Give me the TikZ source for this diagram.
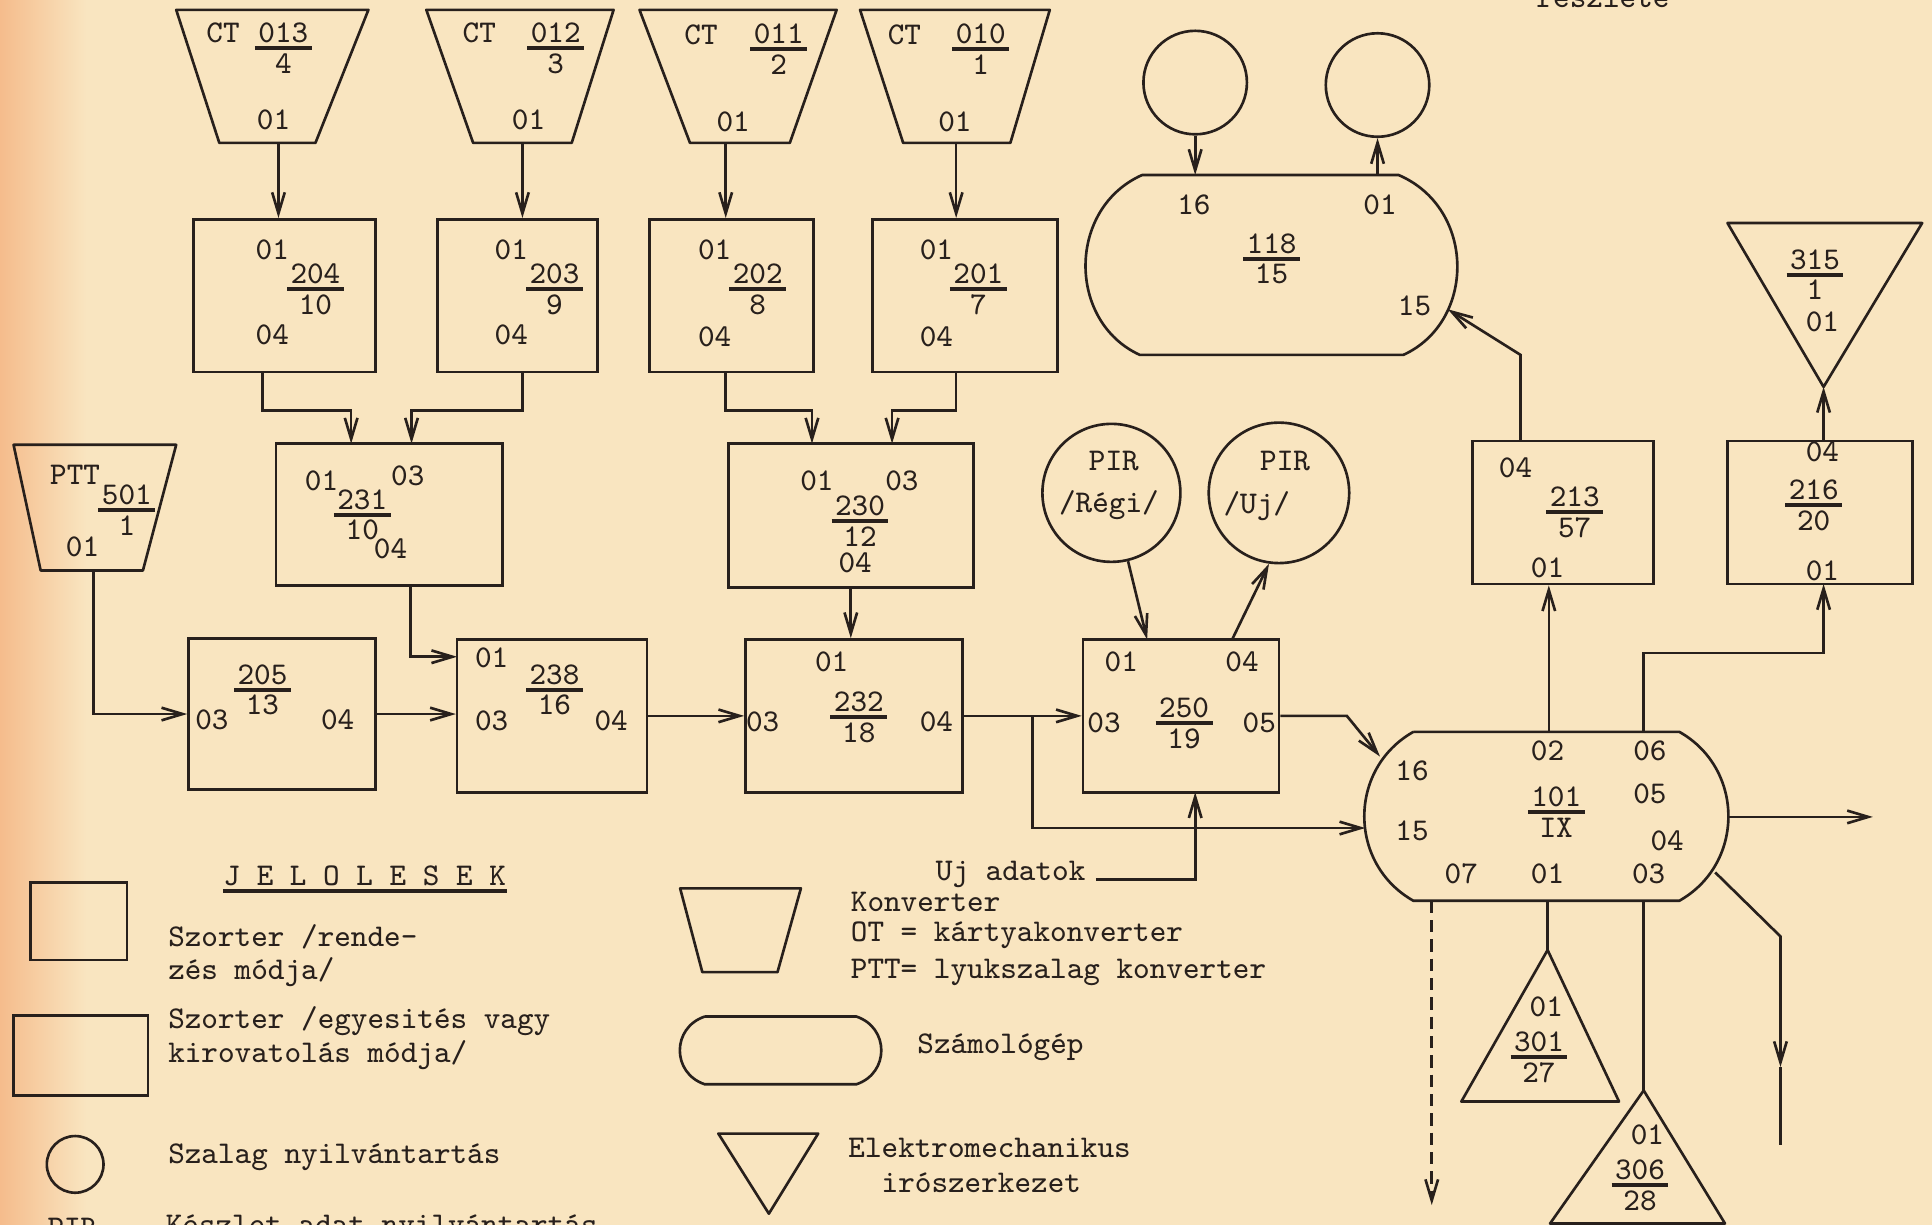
\documentclass[tikz,border=0pt]{standalone}
\usetikzlibrary{arrows.meta}
\definecolor{paper}{RGB}{249,229,192}
\definecolor{edge}{RGB}{245,188,140}
\definecolor{ink}{RGB}{40,32,28}
\newlength{\pxu}
\setlength{\pxu}{0.1232mm}
% number over number with a heavy bar
\newcommand{\frc}[2]{{\renewcommand{\arraystretch}{0}\setlength{\arrayrulewidth}{1.1pt}%
  \begin{tabular}{@{\kern1pt}c@{\kern1pt}}\rule[-1pt]{0pt}{6.5pt}#1\\\hline\rule{0pt}{6.6pt}#2\end{tabular}}}

\begin{document}
\begin{tikzpicture}[x=0.1232mm,y=-0.1232mm,font=\ttfamily\fontsize{9}{10}\selectfont]
\tikzstyle{sbox}=[draw=ink,line width=0.75pt,inner sep=0pt]
\tikzstyle{tape}=[sbox,circle]
\tikzstyle{shp}=[draw=ink,line width=0.75pt,line join=round]
\tikzstyle{wire}=[draw=ink,line width=0.75pt]
\tikzstyle{flow}=[wire,-{Straight Barb[length=6pt,width=3.6pt]}]
\tikzstyle{lbl}=[inner sep=0pt,text=ink]
\tikzstyle{txt}=[lbl,anchor=west]

% paper
\fill[paper] (0,0) rectangle (1568,994);
\shade[left color=edge,right color=paper] (0,0) rectangle (70,994);
\useasboundingbox (0,0) rectangle (1568,994);
\node[lbl,anchor=base] (head) at (1301,6) {részlete};

% CT converters
\draw[shp] (143,8) -- (299,8) -- (256,116) -- (178,116) -- cycle;
\draw[shp] (346,8) -- (498,8) -- (464,116) -- (384,116) -- cycle;
\draw[shp] (519,8) -- (679,8) -- (641,116) -- (560,116) -- cycle;
\draw[shp] (698,8) -- (852,8) -- (820,116) -- (733,116) -- cycle;
\coordinate (c13) at (226,116);
\coordinate (c12) at (424,116);
\coordinate (c11) at (589,116);
\coordinate (c10) at (776,116);
\node[lbl] (ct13a) at (181,27) {CT}; \node[lbl] (ct13b) at (230,39) {\frc{013}{4}}; \node[lbl] (ct13c) at (222,97) {01};
\node[lbl] (ct12a) at (389,27) {CT}; \node[lbl] (ct12b) at (451,39) {\frc{012}{3}}; \node[lbl] (ct12c) at (429,97) {01};
\node[lbl] (ct11a) at (569,28) {CT}; \node[lbl] (ct11b) at (632,40) {\frc{011}{2}}; \node[lbl] (ct11c) at (595,99) {01};
\node[lbl] (ct10a) at (734,28) {CT}; \node[lbl] (ct10b) at (796,40) {\frc{010}{1}}; \node[lbl] (ct10c) at (775,99) {01};

% first sorters
\node[sbox,minimum width=148*\pxu,minimum height=124*\pxu] (b204) at (231,240) {};
\node[sbox,minimum width=130*\pxu,minimum height=124*\pxu] (b203) at (420,240) {};
\node[sbox,minimum width=133*\pxu,minimum height=124*\pxu] (b202) at (593.5,240) {};
\node[sbox,minimum width=150*\pxu,minimum height=124*\pxu] (b201) at (783,240) {};
\node[lbl] (l204a) at (221,203) {01}; \node[lbl] (l204b) at (256,235) {\frc{204}{10}}; \node[lbl] (l204c) at (221,272) {04};
\node[lbl] (l203a) at (415,203) {01}; \node[lbl] (l203b) at (450,235) {\frc{203}{9}}; \node[lbl] (l203c) at (415,272) {04};
\node[lbl] (l202a) at (580,203) {01}; \node[lbl] (l202b) at (615,235) {\frc{202}{8}}; \node[lbl] (l202c) at (580,273) {04};
\node[lbl] (l201a) at (760,203) {01}; \node[lbl] (l201b) at (794,235) {\frc{201}{7}}; \node[lbl] (l201c) at (760,273) {04};
\draw[flow] (c13) -- (c13 |- b204.north);
\draw[flow] (c12) -- (c12 |- b203.north);
\draw[flow] (c11) -- (c11 |- b202.north);
\draw[flow] (c10) -- (c10 |- b201.north);

% merging sorters
\node[sbox,minimum width=184*\pxu,minimum height=115*\pxu] (b231) at (316,417.5) {};
\node[sbox,minimum width=199*\pxu,minimum height=117*\pxu] (b230) at (690.5,418.5) {};
\node[lbl] (l231a) at (261,390) {01}; \node[lbl] (l231b) at (331,386) {03};
\node[lbl] (l231c) at (294,418) {\frc{231}{10}}; \node[lbl] (l231d) at (317,445) {04};
\node[lbl] (l230a) at (663,390) {01}; \node[lbl] (l230b) at (732,390) {03};
\node[lbl] (l230c) at (698,423) {\frc{230}{12}}; \node[lbl] (l230d) at (694,457) {04};
\coordinate (o204) at (213,302);
\coordinate (o203) at (424,302);
\coordinate (o202) at (589,302);
\coordinate (o201) at (776,302);
\coordinate (i231a) at (285,360);
\coordinate (i231b) at (334,360);
\coordinate (i230a) at (659,360);
\coordinate (i230b) at (724,360);
\draw[flow] (o204) -- ++(0,31) -| (i231a);
\draw[flow] (o203) -- ++(0,31) -| (i231b);
\draw[flow] (o202) -- ++(0,31) -| (i230a);
\draw[flow] (o201) -- ++(0,31) -| (i230b);

% paper tape converter
\draw[shp] (11,361) -- (143,361) -- (116,463) -- (33,463) -- cycle;
\coordinate (cptt) at (76,463);
\node[lbl] (ptta) at (61,385) {PTT}; \node[lbl] (pttb) at (103,414) {\frc{501}{1}}; \node[lbl] (pttc) at (67,444) {01};

% main row
\node[sbox,minimum width=152*\pxu,minimum height=123*\pxu] (b205) at (229,579.5) {};
\node[sbox,minimum width=154*\pxu,minimum height=124*\pxu] (b238) at (448,581) {};
\node[sbox,minimum width=176*\pxu,minimum height=124*\pxu] (b232) at (693,581) {};
\node[sbox,minimum width=159*\pxu,minimum height=124*\pxu] (b250) at (958.5,581) {};
\node[lbl] (l205a) at (213,560) {\frc{205}{13}}; \node[lbl] (l205b) at (172,584) {03}; \node[lbl] (l205c) at (274,584) {04};
\node[lbl] (l238a) at (399,534) {01}; \node[lbl] (l238b) at (450,560) {\frc{238}{16}};
\node[lbl] (l238c) at (399,585) {03}; \node[lbl] (l238d) at (496,585) {04};
\node[lbl] (l232a) at (675,537) {01}; \node[lbl] (l232b) at (697,582) {\frc{232}{18}};
\node[lbl] (l232c) at (619,586) {03}; \node[lbl] (l232d) at (760,586) {04};
\node[lbl] (l250a) at (910,537) {01}; \node[lbl] (l250b) at (1008,537) {04};
\node[lbl] (l250c) at (961,587) {\frc{250}{19}};
\node[lbl] (l250d) at (896,587) {03}; \node[lbl] (l250e) at (1022,587) {05};
\coordinate (o231) at (333,475);
\coordinate (i238a) at (371,533);
\coordinate (j1) at (838,581);
\draw[flow] (cptt) |- (b205.west);
\draw[flow] (b205.east) -- (b205.east -| b238.west);
\draw[flow] (o231) |- (i238a);
\draw[flow] (b238.east) -- (b238.east -| b232.west);
\draw[flow] (b230) -- (b230 |- b232.north);
\draw[flow] (b232.east) -- (b232.east -| b250.west);

% stock records
\node[tape,minimum size=112*\pxu] (pirold) at (902,400) {};
\node[tape,minimum size=114*\pxu] (pirnew) at (1038,400) {};
\node[lbl] (pir1a) at (904,374) {PIR}; \node[lbl] (pir1b) at (900,410) {/Régi/};
\node[lbl] (pir2a) at (1043,374) {PIR}; \node[lbl] (pir2b) at (1020,411) {/Uj/};
\coordinate (i250a) at (931,519);
\coordinate (o250b) at (1000,519);
\draw[flow] (pirold) -- (i250a);
\draw[flow] (o250b) -- (pirnew.-98);

% new data
\node[txt] (ujad) at (759,710) {Uj adatok};
\coordinate (i250c) at (970,643);
\draw[flow] (ujad.east) ++(8,4) -| (i250c);

% computer 118 with tapes
\draw[shp] (927,142) -- (1135,142) .. controls (1198,169) and (1198,261) .. (1139,288)
  -- (925,288) .. controls (866,261) and (866,169) .. (927,142);
\node[tape,minimum size=84*\pxu] (tape1) at (970,67) {};
\node[tape,minimum size=84*\pxu] (tape2) at (1118,69) {};
\node[lbl] (l118a) at (969,166) {16}; \node[lbl] (l118b) at (1120,166) {01};
\node[lbl] (l118c) at (1032,210) {\frc{118}{15}}; \node[lbl] (l118d) at (1148,248) {15};
\coordinate (i118a) at (970,142);
\coordinate (o118b) at (1118,142);
\coordinate (i118c) at (1175,251);
\draw[flow] (tape1) -- (i118a);
\draw[flow] (o118b) -- (tape2);

% computer 101
\draw[shp] (1147,594) -- (1363,594) .. controls (1416,624) and (1416,701) .. (1363,731)
  -- (1147,731) .. controls (1094,701) and (1094,624) .. (1147,594);
\node[lbl] (l101a) at (1256,609) {02}; \node[lbl] (l101b) at (1339,609) {06};
\node[lbl] (l101c) at (1146,626) {16}; \node[lbl] (l101d) at (1263,659) {\frc{101}{IX}};
\node[lbl] (l101e) at (1339,644) {05}; \node[lbl] (l101f) at (1146,674) {15};
\node[lbl] (l101g) at (1353,682) {04};
\node[lbl] (l101h) at (1186,709) {07}; \node[lbl] (l101i) at (1256,709) {01}; \node[lbl] (l101j) at (1338,709) {03};
\coordinate (i101a) at (1120,614);
\coordinate (i101b) at (1108,672);
\draw[flow] (b250.east) -- ++(54,0) -- (i101a);
\draw[flow] (j1) |- (i101b);

% sorters after the computer
\node[sbox,minimum width=147*\pxu,minimum height=116*\pxu] (b213) at (1268.5,416) {};
\node[sbox,minimum width=150*\pxu,minimum height=116*\pxu] (b216) at (1477,416) {};
\node[lbl] (l213a) at (1230,380) {04}; \node[lbl] (l213b) at (1278,416) {\frc{213}{57}}; \node[lbl] (l213c) at (1256,461) {01};
\node[lbl] (l216a) at (1479,367) {04}; \node[lbl] (l216b) at (1472,410) {\frc{216}{20}}; \node[lbl] (l216c) at (1479,463) {01};
\coordinate (o101a) at (1257,594);
\coordinate (o101b) at (1334,594);
\coordinate (i216) at (1480,474);
\coordinate (o213) at (1234,358);
\coordinate (o216) at (1480,358);
\draw[flow] (o101a) -- (o101a |- b213.south);
\draw[flow] (o101b) -- ++(0,-64) -| (i216);
\draw[flow] (o213) -- ++(0,-70) -- (i118c);

% printers
\draw[shp] (1402,181) -- (1560,181) -- (1480,314) -- cycle;
\coordinate (a315) at (1480,314);
\node[lbl] (l315a) at (1473,223) {\frc{315}{1}}; \node[lbl] (l315b) at (1479,261) {01};
\draw[flow] (o216) -- (a315);
\draw[shp] (1256,771) -- (1314,894) -- (1186,894) -- cycle;
\coordinate (a301) at (1256,771);
\node[lbl] (l301a) at (1255,817) {01}; \node[lbl] (l301b) at (1249,858) {\frc{301}{27}};
\draw[shp] (1334,885) -- (1400,993) -- (1258,993) -- cycle;
\coordinate (a306) at (1334,885);
\node[lbl] (l306a) at (1337,921) {01}; \node[lbl] (l306b) at (1331,962) {\frc{306}{28}};

% outputs of 101
\coordinate (o101c) at (1403,663);
\coordinate (o101d) at (1392,708);
\coordinate (o101e) at (1162,731);
\coordinate (o101f) at (1256,731);
\coordinate (o101g) at (1334,731);
\coordinate (e1) at (1520,663);
\coordinate (k1) at (1445,760);
\coordinate (m2) at (1445,866);
\coordinate (e2) at (1445,929);
\coordinate (e3) at (1162,978);
\draw[flow] (o101c) -- (e1);
\draw[flow] (o101d) -- (k1) -- (m2);
\draw[wire] (m2) -- (e2);
\draw[flow,dash pattern=on 3.5pt off 2pt] (o101e) -- (e3);
\draw[wire] (o101f) -- (a301);
\draw[wire] (o101g) -- (a306);

% legend
\node[lbl] (jel) at (296,711) {J E L O L E S E K};
\draw[draw=ink,line width=1.4pt] ([yshift=-1.2pt]jel.south west) -- ([yshift=-1.2pt]jel.south east);
\node[sbox,minimum width=78*\pxu,minimum height=63*\pxu] (lsq) at (64,747.5) {};
\node[sbox,minimum width=109*\pxu,minimum height=65*\pxu] (lrect) at (65.5,856.5) {};
\node[tape,minimum size=46*\pxu] (lcirc) at (61,945) {};
\node[txt] (t1) at (136,760) {Szorter /rende-};
\node[txt] (t2) at (136,789) {zés módja/};
\node[txt] (t3) at (136,829) {Szorter /egyesités vagy};
\node[txt] (t4) at (136,856) {kirovatolás módja/};
\node[txt] (t5) at (136,939) {Szalag nyilvántartás};
\node[txt] (t6) at (38,997) {PIR};
\node[txt] (t7) at (134,997) {Készlet adat nyilvántartás};
\draw[shp] (552,721) -- (650,721) -- (631,789) -- (570,789) -- cycle;
\node[txt] (t8) at (690,732) {Konverter};
\node[txt] (t9) at (690,759) {OT = kártyakonverter};
\node[txt] (t10) at (690,789) {PTT= lyukszalag konverter};
\draw[shp] (572,825) -- (695,825) .. controls (722,834) and (722,871) .. (695,880)
  -- (572,880) .. controls (545,871) and (545,834) .. (572,825);
\node[txt] (t11) at (744,850) {Számológép};
\draw[shp] (583,920) -- (664,920) -- (624,985) -- cycle;
\node[txt] (t12) at (688,932) {Elektromechanikus};
\node[txt] (t13) at (715,960) {irószerkezet};
\end{tikzpicture}
\end{document}
